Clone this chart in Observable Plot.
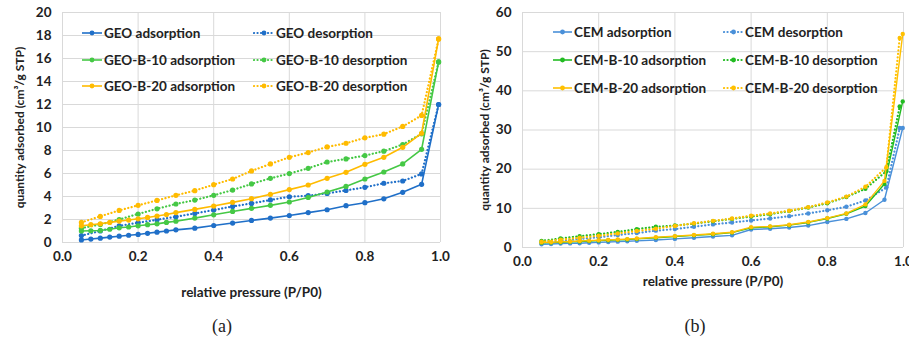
<!DOCTYPE html>
<html>
<head>
<meta charset="utf-8">
<script src="https://cdn.jsdelivr.net/npm/d3@7"></script>
<script src="https://cdn.jsdelivr.net/npm/@observablehq/plot@0.6"></script>
<style>
  body { margin: 0; background: #fff; }
  #wrap { position: relative; width: 909px; height: 350px; overflow: hidden; background: #fff; }
  .panel { position: absolute; top: 0; }
  .legend { position: absolute; font-family: Lato, "Open Sans", sans-serif; font-weight: bold; font-size: 13.5px; color: #222; white-space: nowrap; }
  .cap { position: absolute; font-family: "Liberation Serif", serif; font-size: 18px; color: #222; transform: translateX(-50%); }
</style>
</head>
<body>
<div id="wrap"></div>
<script>
// ---------- data ----------
const xTicks = [0, 0.2, 0.4, 0.6, 0.8, 1.0];
const yTicksA = [0, 2, 4, 6, 8, 10, 12, 14, 16, 18, 20];
const yTicksB = [0, 10, 20, 30, 40, 50, 60];

const xAdsA = [0.05,0.075,0.1,0.125,0.15,0.175,0.2,0.225,0.25,0.275,0.3,0.35,0.4,0.45,0.5,0.55,0.6,0.65,0.7,0.75,0.8,0.85,0.9,0.95,0.995];
const xDesA = [0.05,0.1,0.15,0.2,0.25,0.3,0.35,0.4,0.45,0.5,0.55,0.6,0.65,0.7,0.75,0.8,0.85,0.9,0.95,0.995];
const xAdsB = [0.05,0.075,0.1,0.125,0.15,0.175,0.2,0.225,0.25,0.275,0.3,0.35,0.4,0.45,0.5,0.55,0.6,0.65,0.7,0.75,0.8,0.85,0.9,0.95,0.998];
const xDesB = [0.05,0.1,0.15,0.2,0.25,0.3,0.35,0.4,0.45,0.5,0.55,0.6,0.65,0.7,0.75,0.8,0.85,0.9,0.955,0.99];

const geoAds   = [0.22,0.3,0.38,0.47,0.55,0.63,0.7,0.8,0.9,1.0,1.1,1.25,1.48,1.69,1.92,2.12,2.35,2.6,2.85,3.2,3.46,3.8,4.36,5.06,12.0];
const geoDes   = [0.6,1.0,1.45,1.72,1.98,2.24,2.53,2.82,3.14,3.4,3.7,3.98,4.07,4.27,4.53,4.8,5.15,5.35,5.96,12.0];
const geoB10Ads = [1.0,1.02,1.05,1.15,1.28,1.35,1.45,1.55,1.62,1.75,1.85,2.12,2.41,2.7,2.97,3.23,3.52,3.92,4.39,4.88,5.52,6.13,6.83,8.1,15.7];
const geoB10Des = [1.25,1.57,2.0,2.48,2.93,3.35,3.69,4.1,4.56,5.09,5.58,5.99,6.45,7.0,7.27,7.56,7.94,8.52,9.45,15.7];
const geoB20Ads = [1.45,1.55,1.63,1.75,1.86,1.95,2.06,2.18,2.3,2.43,2.6,2.88,3.17,3.49,3.81,4.19,4.6,5.0,5.58,6.1,6.8,7.41,8.28,9.5,17.7];
const geoB20Des = [1.75,2.27,2.79,3.23,3.66,4.1,4.51,5.03,5.52,6.22,6.83,7.41,7.82,8.31,8.63,9.1,9.42,10.09,11.05,17.7];

const cemAds   = [0.8,0.9,1.0,1.05,1.1,1.2,1.3,1.4,1.5,1.6,1.7,1.9,2.2,2.5,2.8,3.1,4.6,4.8,5.1,5.6,6.5,7.3,8.8,12.2,30.5];
const cemDes   = [1.3,1.7,2.2,2.6,3.2,3.7,4.3,4.7,5.3,5.9,6.4,6.9,7.4,8.0,8.7,9.5,10.4,12.0,15.3,30.5];
const cemB10Ads = [1.2,1.25,1.35,1.45,1.55,1.65,1.75,1.85,1.95,2.05,2.2,2.5,2.8,3.1,3.4,3.8,5.0,5.3,5.7,6.4,7.4,8.6,10.6,16.2,37.3];
const cemB10Des = [1.7,2.3,2.9,3.4,4.0,4.7,5.3,5.6,6.1,6.7,7.3,7.9,8.5,9.3,10.2,11.3,12.9,15.0,19.5,36.0];
const cemB20Ads = [1.3,1.35,1.45,1.55,1.65,1.75,1.85,1.95,2.05,2.15,2.3,2.6,2.9,3.2,3.5,3.9,5.2,5.4,5.8,6.5,7.5,8.7,11.0,17.0,54.5];
const cemB20Des = [1.5,2.0,2.5,3.0,3.6,4.2,4.8,5.5,6.2,6.8,7.4,8.1,8.7,9.4,10.3,11.5,13.0,15.5,20.5,53.5];

const namesA = ["GEO adsorption","GEO desorption","GEO-B-10 adsorption","GEO-B-10 desorption","GEO-B-20 adsorption","GEO-B-20 desorption"];
const namesB = ["CEM adsorption","CEM desorption","CEM-B-10 adsorption","CEM-B-10 desorption","CEM-B-20 adsorption","CEM-B-20 desorption"];
const colorsA = ["#1f6fc8","#1f6fc8","#45c845","#45c845","#ffbb00","#ffbb00"];
const colorsB = ["#4a90d9","#4a90d9","#22bb22","#22bb22","#ffc000","#ffc000"];

const yLabel = "quantity adsorbed (cm³/g STP)";
const xLabel = "relative pressure (P/P0)";

// ---------- build ----------
function rows(xs, ys) { return xs.map((x, i) => ({x, y: ys[i]})); }

const seriesA = [
  {name: namesA[0], data: rows(xAdsA, geoAds), color: colorsA[0], dotted: false},
  {name: namesA[1], data: rows(xDesA, geoDes), color: colorsA[1], dotted: true},
  {name: namesA[2], data: rows(xAdsA, geoB10Ads), color: colorsA[2], dotted: false},
  {name: namesA[3], data: rows(xDesA, geoB10Des), color: colorsA[3], dotted: true},
  {name: namesA[4], data: rows(xAdsA, geoB20Ads), color: colorsA[4], dotted: false},
  {name: namesA[5], data: rows(xDesA, geoB20Des), color: colorsA[5], dotted: true}
];
const seriesB = [
  {name: namesB[0], data: rows(xAdsB, cemAds), color: colorsB[0], dotted: false},
  {name: namesB[1], data: rows(xDesB, cemDes), color: colorsB[1], dotted: true},
  {name: namesB[2], data: rows(xAdsB, cemB10Ads), color: colorsB[2], dotted: false},
  {name: namesB[3], data: rows(xDesB, cemB10Des), color: colorsB[3], dotted: true},
  {name: namesB[4], data: rows(xAdsB, cemB20Ads), color: colorsB[4], dotted: false},
  {name: namesB[5], data: rows(xDesB, cemB20Des), color: colorsB[5], dotted: true}
];

const DOTS = "0.1,3.4";

function seriesMarks(series, r, sw) {
  const marks = [];
  for (const s of series) {
    marks.push(Plot.line(s.data, {x: "x", y: "y", stroke: s.color,
      strokeWidth: s.dotted ? 2.2 : sw,
      strokeLinecap: s.dotted ? "round" : "butt",
      strokeDasharray: s.dotted ? DOTS : null}));
    marks.push(Plot.dot(s.data, {x: "x", y: "y", r, fill: s.color, stroke: "none"}));
  }
  return marks;
}

function panel(opts) {
  return Plot.plot({
    width: opts.width, height: 300,
    marginLeft: opts.ml, marginRight: opts.mr, marginTop: 12, marginBottom: opts.mb,
    style: {fontFamily: "Lato, 'Open Sans', sans-serif", fontSize: "12px", fontWeight: "bold", color: "#222", background: "transparent", overflow: "visible"},
    x: {domain: [0, 1]},
    y: {domain: opts.yDomain},
    marks: [
      Plot.gridX(xTicks, {stroke: "#d9d9d9", strokeOpacity: 1, strokeWidth: 1}),
      Plot.gridY(opts.yTicks, {stroke: "#d9d9d9", strokeOpacity: 1, strokeWidth: 1}),
      Plot.axisX(xTicks, {tickSize: 0, tickPadding: opts.xPad, tickFormat: d => d.toFixed(1), fontSize: 13.5, label: null}),
      Plot.axisY(opts.yTicks, {tickSize: 0, tickPadding: opts.yPad, fontSize: 13.5, label: null}),
      Plot.axisX([], {tickSize: 0, label: xLabel, labelAnchor: "center", labelArrow: "none", labelOffset: opts.xLabOff, fontSize: 13.5}),
      Plot.axisY([], {tickSize: 0, label: yLabel, labelAnchor: "center", labelArrow: "none", labelOffset: opts.yLabOff, fontSize: 12}),
      ...seriesMarks(opts.series, opts.r, opts.sw)
    ]
  });
}

const wrap = document.getElementById("wrap");

const a = panel({width: 455, ml: 62, mr: 15, mb: 58, yDomain: [0, 20], yTicks: yTicksA,
  xPad: 9, yPad: 11, xLabOff: 54, yLabOff: 47, series: seriesA, r: 2.6, sw: 1.6});
const da = document.createElement("div"); da.className = "panel"; da.style.left = "0px"; da.appendChild(a); wrap.appendChild(da);

const b = panel({width: 459, ml: 72, mr: 6, mb: 53, yDomain: [0, 60], yTicks: yTicksB,
  xPad: 9, yPad: 11, xLabOff: 38, yLabOff: 42, series: seriesB, r: 2.2, sw: 1.4});
const db = document.createElement("div"); db.className = "panel"; db.style.left = "450px"; db.appendChild(b); wrap.appendChild(db);

// ---------- legends ----------
function legend(series, left, col2, rowsY, lineW, textGap) {
  series.forEach((s, i) => {
    const col = i % 2, row = Math.floor(i / 2);
    const d = document.createElement("div");
    d.className = "legend";
    d.style.left = (col === 0 ? left : col2) + "px";
    d.style.top = (rowsY[row] - 9) + "px";
    d.style.display = "flex"; d.style.alignItems = "center"; d.style.height = "18px";
    const svg = d3.create("svg").attr("width", lineW).attr("height", 18).style("margin-right", textGap + "px");
    svg.append("line").attr("x1", 1).attr("x2", lineW - 1).attr("y1", 9).attr("y2", 9)
      .attr("stroke", s.color).attr("stroke-width", s.dotted ? 2.2 : 1.6)
      .attr("stroke-linecap", s.dotted ? "round" : "butt")
      .attr("stroke-dasharray", s.dotted ? DOTS : null);
    svg.append("circle").attr("cx", lineW / 2).attr("cy", 9).attr("r", 2.4).attr("fill", s.color);
    d.appendChild(svg.node());
    const t = document.createElement("span"); t.textContent = s.name; d.appendChild(t);
    wrap.appendChild(d);
  });
}
legend(seriesA, 81, 253, [33, 60, 86], 22, 1);
legend(seriesB, 552, 723, [32, 60, 88], 21, 1);

// ---------- captions ----------
[["(a)", 222], ["(b)", 695]].forEach(([txt, x]) => {
  const c = document.createElement("div"); c.className = "cap"; c.textContent = txt;
  c.style.left = x + "px"; c.style.top = "316px"; wrap.appendChild(c);
});
</script>
</body>
</html>
